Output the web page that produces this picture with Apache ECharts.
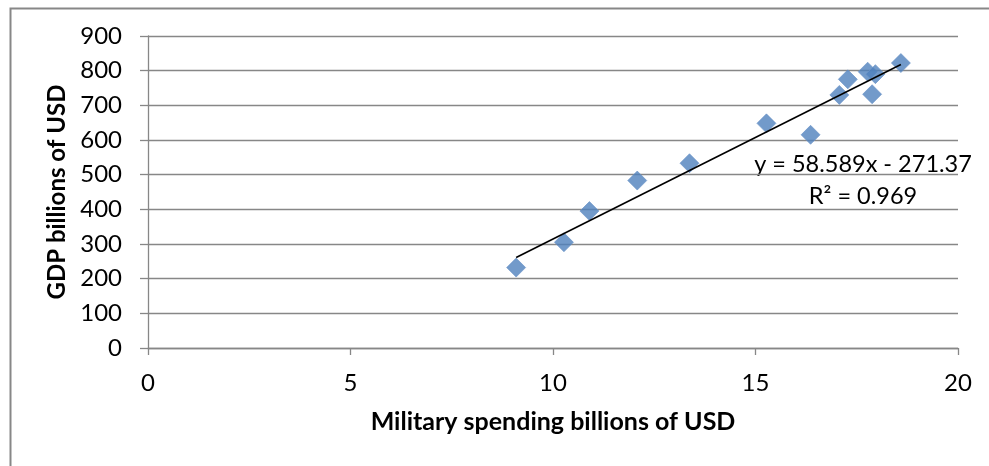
<!DOCTYPE html>
<html>
<head>
<meta charset="utf-8">
<script src="https://cdn.jsdelivr.net/npm/echarts@6/dist/echarts.min.js"></script>
<style>
html,body{margin:0;padding:0;background:#fff;}
#chart{width:989px;height:466px;}
</style>
</head>
<body>
<div id="chart"></div>
<script>
// Data
var militarySpending = [9.09, 10.27, 10.9, 12.08, 13.37, 15.27, 16.36, 17.07, 17.28, 17.77, 17.96, 17.88, 18.59];
var gdp = [232, 305, 395, 483, 533, 648, 615, 730, 775, 797, 790, 732, 822];
var trendSlope = 58.589;
var trendIntercept = -271.37;
var trendLabel = 'y = 58.589x - 271.37';
var r2Label = 'R\u00B2 = 0.969';
var xTitle = 'Military spending billions of USD';
var yTitle = 'GDP billions of USD';

var points = militarySpending.map(function (x, i) { return [x, gdp[i]]; });
var xMin = Math.min.apply(null, militarySpending);
var xMax = Math.max.apply(null, militarySpending);
var trend = [[xMin, trendSlope * xMin + trendIntercept], [xMax, trendSlope * xMax + trendIntercept]];

var FONT = 'Lato, "Open Sans", sans-serif';
var GRAY = '#878787';

var chart = echarts.init(document.getElementById('chart'), null, {renderer: 'canvas'});
chart.setOption({
  backgroundColor: '#ffffff',
  animation: false,
  grid: {left: 148, right: 31, top: 36, bottom: 118, containLabel: false},
  xAxis: {
    type: 'value', min: 0, max: 20, interval: 5,
    axisLine: {show: true, onZero: false, lineStyle: {color: GRAY, width: 1.3}},
    axisTick: {show: true, length: 7, lineStyle: {color: GRAY, width: 1.3}},
    splitLine: {show: false},
    axisLabel: {color: '#000', fontFamily: FONT, fontSize: 24, margin: 23},
    name: xTitle, nameLocation: 'middle', nameGap: 61,
    nameTextStyle: {color: '#000', fontFamily: FONT, fontSize: 25, fontWeight: 'bold'}
  },
  yAxis: {
    type: 'value', min: 0, max: 900, interval: 100,
    axisLine: {show: true, lineStyle: {color: GRAY, width: 1.3}},
    axisTick: {show: true, length: 8, lineStyle: {color: GRAY, width: 1.3}},
    splitLine: {show: true, lineStyle: {color: GRAY, width: 1.3}},
    axisLabel: {color: '#000', fontFamily: FONT, fontSize: 24, margin: 26},
    name: yTitle, nameLocation: 'middle', nameGap: 67,
    nameTextStyle: {color: '#000', fontFamily: FONT, fontSize: 24, fontWeight: 'bold'}
  },
  series: [
    {
      type: 'scatter',
      data: points,
      symbol: 'diamond',
      symbolSize: 19,
      itemStyle: {color: '#4F81BD', borderColor: '#6a93c8', borderWidth: 0.8},
      z: 2
    },
    {
      type: 'line',
      data: trend,
      symbol: 'none',
      lineStyle: {color: '#000', width: 1.6},
      z: 3,
      silent: true
    }
  ],
  graphic: [
    {
      type: 'rect', left: 8, top: 6, silent: true,
      shape: {width: 1000, height: 480},
      style: {fill: 'none', stroke: GRAY, lineWidth: 2}
    },
    {
      type: 'text', x: 863, y: 164, silent: true,
      style: {text: trendLabel, fill: '#000', font: '23.5px ' + FONT, align: 'center', verticalAlign: 'middle'}
    },
    {
      type: 'text', x: 863, y: 196, silent: true,
      style: {text: r2Label, fill: '#000', font: '23.5px ' + FONT, align: 'center', verticalAlign: 'middle'}
    }
  ]
});
</script>
</body>
</html>
